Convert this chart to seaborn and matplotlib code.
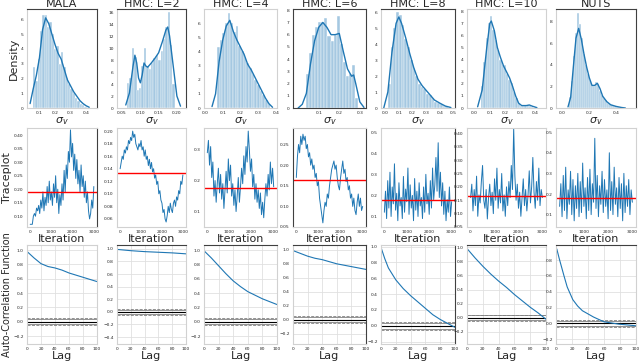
import numpy as np
import pandas as pd
import matplotlib
matplotlib.use("Agg")
import matplotlib.pyplot as plt
import seaborn as sns

sns.set_style("white")
plt.rcParams['font.family'] = ['DejaVu Sans']

titles = ["MALA", "HMC: L=2", "HMC: L=4", "HMC: L=6", "HMC: L=8", "HMC: L=10", "NUTS"]

# ---------------------------------------------------------
# Row 1: posterior histograms (bin centre, density) + kde
# ---------------------------------------------------------
hist_x = [
    [0.065, 0.08, 0.095, 0.11, 0.125, 0.14, 0.155, 0.17, 0.185, 0.20, 0.215, 0.23,
     0.245, 0.26, 0.275, 0.29, 0.305, 0.32, 0.335, 0.35, 0.365, 0.38, 0.395],
    [0.067, 0.074, 0.080, 0.087, 0.093, 0.100, 0.106, 0.113, 0.119, 0.126, 0.132,
     0.139, 0.145, 0.152, 0.158, 0.165, 0.171, 0.178, 0.184, 0.191],
    [0.075, 0.09, 0.105, 0.12, 0.135, 0.15, 0.165, 0.18, 0.195, 0.21, 0.225, 0.24,
     0.255, 0.27, 0.285, 0.30, 0.315, 0.33, 0.345, 0.36],
    [0.045, 0.06, 0.075, 0.09, 0.105, 0.12, 0.135, 0.15, 0.165, 0.18, 0.195, 0.21,
     0.225, 0.24, 0.255, 0.27, 0.285],
    [0.03, 0.05, 0.07, 0.09, 0.11, 0.13, 0.15, 0.17, 0.19, 0.21, 0.23, 0.25, 0.27,
     0.29, 0.31, 0.33, 0.35, 0.37, 0.39, 0.41, 0.43, 0.45],
    [0.05, 0.065, 0.08, 0.095, 0.11, 0.125, 0.14, 0.155, 0.17, 0.185, 0.20, 0.215,
     0.23, 0.245, 0.26, 0.275, 0.29, 0.305, 0.32, 0.335, 0.35, 0.365, 0.38],
    [0.055, 0.07, 0.085, 0.10, 0.115, 0.13, 0.145, 0.16, 0.175, 0.19, 0.205, 0.22,
     0.235, 0.25, 0.265, 0.28, 0.295, 0.31, 0.325, 0.34, 0.355, 0.37, 0.385, 0.40, 0.415],
]
hist_h = [
    [2.8, 1.8, 3.3, 5.2, 6.3, 6.3, 5.5, 5.8, 5.0, 4.0, 4.2, 3.0, 3.8, 2.8, 2.0, 1.6,
     1.3, 1.0, 0.7, 0.5, 0.3, 0.2, 0.1],
    [4.2, 5.0, 10.0, 8.5, 3.0, 3.3, 7.0, 10.0, 7.0, 6.5, 7.5, 8.3, 8.8, 8.0, 9.5,
     11.5, 13.5, 16.0, 10.5, 4.0],
    [4.3, 4.8, 5.3, 6.0, 6.7, 6.0, 5.4, 5.8, 4.4, 4.0, 3.6, 3.2, 2.8, 2.4, 2.0, 1.6,
     1.2, 0.9, 0.6, 0.3],
    [2.8, 4.5, 6.0, 6.6, 7.0, 7.0, 7.4, 5.9, 5.5, 6.0, 7.5, 5.2, 3.8, 2.6, 2.8, 3.5, 0.8],
    [1.5, 3.8, 5.0, 6.0, 5.8, 5.2, 4.3, 3.8, 3.0, 2.5, 2.0, 1.5, 1.3, 1.2, 0.9, 0.8,
     0.6, 0.4, 0.3, 0.25, 0.15, 0.1],
    [1.8, 3.8, 5.8, 7.0, 7.6, 6.5, 5.6, 4.8, 4.0, 3.6, 3.6, 2.8, 2.3, 2.1, 1.3, 0.8,
     0.4, 0.2, 0.15, 0.2, 0.25, 0.2, 0.1],
    [1.0, 2.5, 4.8, 7.0, 8.8, 7.8, 6.5, 5.0, 4.0, 3.2, 2.6, 2.1, 2.0, 2.4, 2.2, 1.6,
     1.2, 0.9, 0.7, 0.5, 0.4, 0.3, 0.2, 0.15, 0.1],
]
kde_x = [
    [0.04, 0.06, 0.08, 0.10, 0.12, 0.14, 0.16, 0.18, 0.20, 0.22, 0.24, 0.26, 0.28,
     0.30, 0.32, 0.34, 0.36, 0.38, 0.40, 0.42],
    [0.06, 0.07, 0.08, 0.085, 0.09, 0.095, 0.10, 0.105, 0.11, 0.115, 0.12, 0.13,
     0.14, 0.15, 0.16, 0.17, 0.175, 0.18, 0.19, 0.20, 0.21],
    [0.04, 0.06, 0.08, 0.10, 0.12, 0.14, 0.16, 0.18, 0.20, 0.22, 0.24, 0.26, 0.28,
     0.30, 0.32, 0.34, 0.36, 0.38],
    [0.0, 0.02, 0.04, 0.06, 0.08, 0.10, 0.12, 0.14, 0.16, 0.18, 0.20, 0.22, 0.24,
     0.26, 0.27, 0.28, 0.30, 0.32],
    [-0.01, 0.02, 0.05, 0.08, 0.10, 0.12, 0.15, 0.18, 0.21, 0.24, 0.27, 0.30, 0.33,
     0.36, 0.40, 0.44, 0.48],
    [0.02, 0.05, 0.08, 0.10, 0.11, 0.13, 0.15, 0.17, 0.19, 0.21, 0.23, 0.25, 0.27,
     0.29, 0.31, 0.34, 0.36, 0.38, 0.41],
    [0.04, 0.06, 0.08, 0.10, 0.12, 0.14, 0.16, 0.18, 0.20, 0.22, 0.24, 0.26, 0.28,
     0.30, 0.33, 0.36, 0.40, 0.44, 0.47],
]
kde_y = [
    [0.3, 1.3, 2.2, 3.4, 5.3, 6.1, 5.7, 5.0, 4.3, 3.7, 3.3, 2.6, 1.9, 1.5, 1.1, 0.8,
     0.5, 0.3, 0.15, 0.05],
    [0.5, 2.5, 7.0, 8.8, 7.5, 5.0, 4.2, 5.5, 7.5, 7.0, 6.8, 7.5, 8.3, 9.2, 11.0,
     13.0, 13.5, 12.0, 7.0, 2.0, 0.3],
    [0.1, 1.0, 3.3, 4.8, 5.8, 6.2, 5.4, 4.8, 4.3, 3.8, 3.1, 2.7, 2.2, 1.7, 1.2, 0.7,
     0.3, 0.05],
    [0.0, 0.3, 1.2, 3.6, 5.5, 6.6, 7.0, 6.6, 6.0, 6.0, 6.1, 4.6, 3.2, 2.6, 2.7, 2.0,
     0.5, 0.05],
    [0.0, 1.0, 3.5, 5.3, 5.7, 5.3, 4.4, 3.4, 2.5, 1.8, 1.4, 1.1, 0.8, 0.5, 0.3, 0.12, 0.03],
    [0.1, 1.5, 5.0, 7.0, 7.2, 6.4, 5.0, 4.2, 3.5, 3.0, 2.5, 1.8, 1.0, 0.4, 0.2, 0.2,
     0.25, 0.15, 0.03],
    [0.1, 1.0, 3.8, 6.5, 7.4, 6.4, 5.0, 3.8, 2.8, 2.1, 2.1, 2.3, 1.8, 1.1, 0.6, 0.3,
     0.15, 0.05, 0.0],
]
hist_xlim = [(0.02, 0.47), (0.036, 0.225), (-0.005, 0.405), (-0.025, 0.33),
             (-0.03, 0.51), (-0.05, 0.47), (-0.05, 0.55)]
hist_ylim = [6.7, 16.5, 7.0, 8.1, 6.2, 8.2, 9.2]
hist_xticks = [[0.1, 0.2, 0.3, 0.4], [0.05, 0.10, 0.15, 0.20], [0.0, 0.1, 0.2, 0.3, 0.4],
               [0.1, 0.2, 0.3], [0.0, 0.1, 0.2, 0.3, 0.4, 0.5], [0.0, 0.1, 0.2, 0.3, 0.4],
               [0.0, 0.2, 0.4]]
hist_yticks = [list(range(0, 7)), list(range(0, 17, 2)), list(range(0, 7)), list(range(0, 9)),
               list(range(0, 7)), list(range(0, 9)), list(range(0, 9, 2))]

# ---------------------------------------------------------
# Row 2: traces (every 50 iterations) and their means
# ---------------------------------------------------------
iters = list(range(0, 3001, 50))
traces = [
    [0.07, 0.07, 0.07, 0.10, 0.11, 0.10, 0.13, 0.12, 0.14, 0.11, 0.16, 0.13, 0.19, 0.12,
     0.17, 0.14, 0.21, 0.15, 0.23, 0.16, 0.19, 0.14, 0.22, 0.17, 0.25, 0.15, 0.20, 0.11,
     0.18, 0.14, 0.22, 0.16, 0.27, 0.19, 0.29, 0.24, 0.34, 0.30, 0.42, 0.32, 0.37, 0.27,
     0.33, 0.24, 0.31, 0.22, 0.27, 0.19, 0.29, 0.21, 0.25, 0.17, 0.23, 0.15, 0.19, 0.12,
     0.09, 0.11, 0.16, 0.13, 0.21],
    [0.14, 0.15, 0.16, 0.155, 0.17, 0.165, 0.175, 0.17, 0.185, 0.18, 0.19, 0.185, 0.20,
     0.19, 0.195, 0.18, 0.175, 0.17, 0.18, 0.175, 0.185, 0.17, 0.175, 0.16, 0.17, 0.155,
     0.16, 0.145, 0.155, 0.14, 0.15, 0.135, 0.14, 0.125, 0.13, 0.115, 0.12, 0.10, 0.105,
     0.09, 0.085, 0.07, 0.075, 0.06, 0.055, 0.065, 0.08, 0.07, 0.085, 0.075, 0.07, 0.085,
     0.09, 0.08, 0.095, 0.09, 0.105, 0.10, 0.12, 0.115, 0.13],
    [0.29, 0.33, 0.25, 0.31, 0.21, 0.26, 0.15, 0.20, 0.13, 0.19, 0.24, 0.16, 0.22, 0.14,
     0.19, 0.11, 0.17, 0.23, 0.16, 0.27, 0.20, 0.25, 0.15, 0.19, 0.12, 0.17, 0.10, 0.15,
     0.21, 0.13, 0.18, 0.24, 0.19, 0.28, 0.22, 0.31, 0.26, 0.36, 0.30, 0.23, 0.27, 0.18,
     0.22, 0.14, 0.19, 0.13, 0.17, 0.11, 0.16, 0.09, 0.13, 0.08, 0.14, 0.19, 0.15, 0.22,
     0.17, 0.26, 0.19, 0.24, 0.18],
    [0.17, 0.22, 0.25, 0.23, 0.27, 0.25, 0.275, 0.26, 0.27, 0.24, 0.25, 0.22, 0.23, 0.20,
     0.215, 0.19, 0.20, 0.17, 0.18, 0.15, 0.16, 0.12, 0.10, 0.08, 0.06, 0.09, 0.11, 0.10,
     0.13, 0.12, 0.15, 0.17, 0.19, 0.20, 0.21, 0.19, 0.20, 0.17, 0.15, 0.14, 0.17, 0.19,
     0.21, 0.18, 0.19, 0.16, 0.17, 0.14, 0.15, 0.12, 0.13, 0.10, 0.12, 0.09, 0.08, 0.11,
     0.13, 0.10, 0.12, 0.09, 0.10],
    [0.12, 0.22, 0.09, 0.27, 0.14, 0.31, 0.10, 0.24, 0.16, 0.35, 0.13, 0.21, 0.08, 0.26,
     0.15, 0.19, 0.09, 0.29, 0.12, 0.23, 0.17, 0.33, 0.11, 0.25, 0.14, 0.20, 0.08, 0.28,
     0.13, 0.22, 0.10, 0.26, 0.15, 0.19, 0.09, 0.24, 0.12, 0.30, 0.16, 0.21, 0.11, 0.27,
     0.14, 0.33, 0.18, 0.25, 0.38, 0.22, 0.45, 0.19, 0.31, 0.15, 0.26, 0.11, 0.22, 0.08,
     0.18, 0.12, 0.24, 0.10, 0.17],
    [0.16, 0.21, 0.11, 0.19, 0.13, 0.24, 0.09, 0.17, 0.14, 0.22, 0.28, 0.15, 0.12, 0.19,
     0.08, 0.16, 0.21, 0.13, 0.18, 0.10, 0.23, 0.15, 0.27, 0.12, 0.19, 0.14, 0.25, 0.11,
     0.17, 0.09, 0.20, 0.13, 0.22, 0.16, 0.28, 0.19, 0.42, 0.24, 0.15, 0.21, 0.12, 0.18,
     0.09, 0.16, 0.23, 0.13, 0.19, 0.11, 0.17, 0.26, 0.14, 0.20, 0.31, 0.18, 0.12, 0.22,
     0.15, 0.27, 0.13, 0.19, 0.16],
    [0.14, 0.25, 0.09, 0.29, 0.12, 0.33, 0.08, 0.22, 0.15, 0.31, 0.10, 0.27, 0.07, 0.24,
     0.13, 0.30, 0.09, 0.26, 0.11, 0.35, 0.14, 0.23, 0.08, 0.28, 0.12, 0.32, 0.10, 0.25,
     0.16, 0.47, 0.13, 0.29, 0.09, 0.24, 0.15, 0.31, 0.11, 0.27, 0.14, 0.22, 0.08, 0.40,
     0.12, 0.26, 0.10, 0.33, 0.15, 0.23, 0.09, 0.28, 0.13, 0.25, 0.07, 0.30, 0.11, 0.24,
     0.14, 0.27, 0.10, 0.22, 0.16],
]
trace_means = [0.19, 0.133, 0.175, 0.165, 0.18, 0.165, 0.18]
trace_ylim = [(0.06, 0.427), (0.047, 0.205), (0.05, 0.37), (0.05, 0.29),
              (0.05, 0.52), (0.05, 0.42), (0.04, 0.52)]
trace_yticks = [[0.10, 0.15, 0.20, 0.25, 0.30, 0.35, 0.40],
                [0.06, 0.08, 0.10, 0.12, 0.14, 0.16, 0.18, 0.20],
                [0.1, 0.2, 0.3],
                [0.05, 0.10, 0.15, 0.20, 0.25],
                [0.1, 0.2, 0.3, 0.4, 0.5],
                [0.05, 0.10, 0.15, 0.20, 0.25, 0.30, 0.35, 0.40],
                [0.1, 0.2, 0.3, 0.4, 0.5]]
trace_fmt = ["%.2f", "%.2f", "%.1f", "%.2f", "%.1f", "%.2f", "%.1f"]

# ---------------------------------------------------------
# Row 3: autocorrelation
# ---------------------------------------------------------
acf_lag = [
    [0, 10, 20, 30, 40, 50, 60, 70, 80, 90, 100],
    [0, 20, 40, 60, 80, 100],
    [0, 10, 20, 30, 40, 50, 60, 70, 80, 90, 100],
    [0, 10, 20, 30, 40, 50, 60, 70, 80, 90, 100],
    [0, 5, 10, 20, 30, 40, 50, 60, 70, 80, 90, 100],
    [0, 10, 20, 30, 40, 50, 60, 70, 80, 90, 100],
    [1, 4, 7, 10, 14, 21, 27, 33, 40, 47, 60, 79, 100],
]
acf_val = [
    [0.98, 0.89, 0.81, 0.77, 0.75, 0.72, 0.68, 0.65, 0.62, 0.59, 0.56],
    [0.99, 0.97, 0.955, 0.945, 0.935, 0.92],
    [0.99, 0.89, 0.78, 0.67, 0.57, 0.49, 0.42, 0.37, 0.32, 0.28, 0.24],
    [0.99, 0.95, 0.91, 0.88, 0.86, 0.83, 0.80, 0.78, 0.76, 0.74, 0.72],
    [0.99, 0.85, 0.73, 0.58, 0.47, 0.38, 0.30, 0.22, 0.14, 0.08, 0.03, -0.02],
    [0.98, 0.85, 0.73, 0.62, 0.52, 0.43, 0.33, 0.24, 0.15, 0.07, -0.02],
    [0.94, 0.82, 0.71, 0.60, 0.46, 0.30, 0.22, 0.16, 0.12, 0.08, 0.02, -0.01, -0.03],
]
acf_ylim = [(-0.31, 1.07), (-0.51, 1.06), (-0.31, 1.07), (-0.35, 1.07),
            (-0.23, 1.02), (-0.37, 1.03), (-0.26, 0.99)]
n_samples = 3000

# spines that are drawn dark in the original, per (row, column)
dark_spines = {
    (0, 0): ["top", "right"], (0, 1): ["top", "right"],
    (0, 3): ["top", "right", "left", "bottom"], (0, 4): ["top", "right"],
    (0, 6): ["top", "right"],
    (1, 0): ["right"], (1, 3): ["left", "right"], (1, 4): ["right"],
    (2, 1): ["top"], (2, 2): ["top"], (2, 3): ["top", "right"], (2, 4): ["right"],
    (2, 5): ["top"], (2, 6): ["top"],
}

# ---------------------------------------------------------
# Layout (pixels of a 640x361 canvas)
# ---------------------------------------------------------
W, H = 640, 361
col_lr = [(27, 97), (117, 186), (204, 277), (293, 366), (381, 455), (467, 546), (556, 636)]
row_tb = [(9, 108), (128, 227), (245, 344)]

fig = plt.figure(figsize=(6.4, 3.61), dpi=100)
blue = "#1f77b4"
tick_fs = 3.2
lab_fs = 8


def make_ax(r, c):
    l, rr = col_lr[c]
    t, b = row_tb[r]
    ax = fig.add_axes([l / W, 1 - b / H, (rr - l) / W, (b - t) / H])
    ax.tick_params(labelsize=tick_fs, length=1.5, width=0.4, pad=1)
    for name, s in ax.spines.items():
        s.set_linewidth(0.8)
        s.set_color("0.25" if name in dark_spines.get((r, c), []) else "0.82")
    return ax


for c in range(7):
    # histogram + kde
    ax = make_ax(0, c)
    x = hist_x[c]
    bw = x[1] - x[0]
    sns.histplot(x=x, weights=hist_h[c], bins=len(x),
                 binrange=(x[0] - bw / 2, x[-1] + bw / 2),
                 color=blue, alpha=0.4, edgecolor="white", linewidth=0.3, ax=ax)
    sns.lineplot(x=kde_x[c], y=kde_y[c], color=blue, linewidth=1.0, ax=ax)
    ax.set_xlim(hist_xlim[c])
    ax.set_ylim(0, hist_ylim[c])
    ax.set_xticks(hist_xticks[c])
    ax.set_yticks(hist_yticks[c])
    ax.set_title(titles[c], fontsize=lab_fs, pad=1.5)
    ax.set_xlabel(r"$\sigma_v$", fontsize=lab_fs, labelpad=0)
    ax.set_ylabel("Density" if c == 0 else "", fontsize=lab_fs, labelpad=1)

    # traceplot
    ax = make_ax(1, c)
    sns.lineplot(x=iters, y=traces[c], color=blue, linewidth=0.7, ax=ax)
    ax.axhline(trace_means[c], color="red", linewidth=1.0)
    ax.set_ylim(trace_ylim[c])
    ax.set_yticks(trace_yticks[c])
    ax.yaxis.set_major_formatter(matplotlib.ticker.FormatStrFormatter(trace_fmt[c]))
    ax.set_xticks([0, 1000, 2000, 3000])
    ax.set_xlabel("Iteration", fontsize=lab_fs, labelpad=0)
    ax.set_ylabel("Traceplot" if c == 0 else "", fontsize=lab_fs, labelpad=1)

    # autocorrelation
    ax = make_ax(2, c)
    ax.grid(True, color="0.88", linewidth=0.6)
    z95 = 1.959963984540054 / np.sqrt(n_samples)
    z99 = 2.5758293035489004 / np.sqrt(n_samples)
    ax.axhline(z99, linestyle="--", color="grey", linewidth=0.6)
    ax.axhline(z95, color="grey", linewidth=0.6)
    ax.axhline(0.0, color="black", linewidth=0.8)
    ax.axhline(-z95, color="grey", linewidth=0.6)
    ax.axhline(-z99, linestyle="--", color="grey", linewidth=0.6)
    sns.lineplot(x=acf_lag[c], y=acf_val[c], color=blue, linewidth=0.8, ax=ax)
    ax.set_xlim(0, 100)
    ax.set_ylim(acf_ylim[c])
    ax.set_xticks([0, 20, 40, 60, 80, 100])
    ax.set_xlabel("Lag", fontsize=lab_fs, labelpad=0)
    ax.set_ylabel("Auto-Correlation Function" if c == 0 else "", fontsize=7, labelpad=1)

fig.savefig("out.png", dpi=100)
